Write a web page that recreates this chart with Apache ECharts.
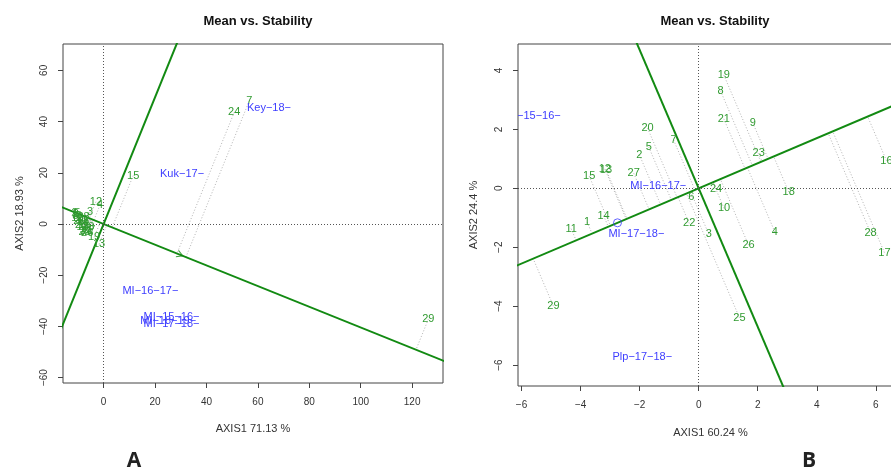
<!DOCTYPE html>
<html><head><meta charset="utf-8">
<script src="https://cdn.jsdelivr.net/npm/echarts@6/dist/echarts.min.js"></script>
<style>html,body{margin:0;padding:0;background:#fff}#c{width:891px;height:467px}</style>
</head><body><div id="c"></div>
<script>
// ---------- Panel A data ----------
const genoA  = ['7','24','15','29','12','4','3','19','13','1','2','5','6','8','9','10','11','14','16','17','18','20','21','22','23','25','26','27','28'];
const genoAx = [56.7,50.8,11.5,126.3,-3.0,-1.4,-5.3,-3.7,-1.8,-11.5,-10.8,-10.2,-9.6,-11.0,-9.0,-8.6,-10.4,-8.0,-7.6,-8.2,-7.0,-9.4,-6.6,-7.4,-6.0,-8.8,-6.4,-5.6,-7.8];
const genoAy = [48.2,43.6,18.9,-37.2,8.7,7.4,4.6,-5.2,-7.9,4.2,3.8,4.5,3.2,3.0,2.4,1.6,2.2,0.8,-0.4,-1.2,-1.8,1.0,-2.6,-3.0,-1.0,-0.2,-3.4,-2.2,2.6];
const envA   = ['Key−18−','Kuk−17−','MI−16−17−','MI−15−16−','MI−18−19−','MI−17−18−'];
const envAx  = [64.3,30.5,18.2,26.4,25.1,26.4];
const envAy  = [45.3,19.4,-26.2,-36.4,-37.8,-39.1];
const avgEnvA = [29.7,-12.0];
const ticksAx = [0,20,40,60,80,100,120];
const ticksAy = [-60,-40,-20,0,20,40,60];
const rangeAx = [-15.8,132];
const rangeAy = [-62.1,70.3];

// ---------- Panel B data ----------
const genoB  = ['19','8','21','9','23','18','20','7','5','2','12','13','15','27','24','6','10','14','1','11','22','3','26','4','28','17','16','29','25'];
const genoBx = [0.85,0.74,0.85,1.83,2.03,3.05,-1.73,-0.85,-1.69,-2.01,-3.18,-3.14,-3.71,-2.20,0.59,-0.25,0.86,-3.22,-3.78,-4.32,-0.32,0.34,1.69,2.58,5.82,6.29,6.36,-4.92,1.38];
const genoBy = [3.85,3.31,2.36,2.23,1.19,-0.12,2.04,1.64,1.40,1.14,0.66,0.64,0.42,0.51,-0.03,-0.29,-0.68,-0.93,-1.14,-1.37,-1.19,-1.55,-1.93,-1.48,-1.50,-2.18,0.94,-4.00,-4.39];
const envB   = ['MI−15−16−','MI−16−17−','MI−17−18−','Plp−17−18−'];
const envBx  = [-5.62,-1.37,-2.11,-1.91];
const envBy  = [2.47,0.09,-1.56,-5.73];
const avgEnvB = [-2.75,-1.17];
const ticksBx = [-6,-4,-2,0,2,4,6];
const ticksBy = [-6,-4,-2,0,2,4];
const rangeBx = [-6.12,6.92];
const rangeBy = [-6.71,4.9];

const titleText = 'Mean vs. Stability';
const axisNames = [['AXIS1 71.13 %','AXIS2 18.93 %'],['AXIS1 60.24 %','AXIS2 24.4 %']];

// ---------- helpers ----------
const GREEN_LINE = '#128a12';
const GENO_COL = '#319b31';
const ENV_COL = '#3d3dff';
const FONT = 'Liberation Sans, Arial, sans-serif';
const fmt = v => (v < 0 ? '−' + Math.abs(v) : String(v));

function projSegments(xs, ys, avg) {
  const d2 = avg[0]*avg[0] + avg[1]*avg[1];
  return xs.map((x, i) => {
    const t = (x*avg[0] + ys[i]*avg[1]) / d2;
    return [x, ys[i], t*avg[0], t*avg[1]];
  });
}
function axisLines(avg) {
  const n = Math.hypot(avg[0], avg[1]);
  const ux = avg[0]/n, uy = avg[1]/n, B = 1000;
  return {
    aea: [[-B*ux, -B*uy], [B*ux, B*uy]],
    perp: [[B*uy, -B*ux], [-B*uy, B*ux]]
  };
}
function xAxisDef(gi, range, ticks, name, gap) {
  return {
    gridIndex: gi, type: 'value', min: range[0], max: range[1],
    axisLine: { show: false, onZero: false },
    axisTick: { show: true, length: 5, customValues: ticks, lineStyle: { color: '#444' } },
    axisLabel: { customValues: ticks, fontSize: 10, color: '#333', margin: 14, fontFamily: FONT, formatter: fmt },
    splitLine: { show: false },
    name: name, nameLocation: 'middle', nameGap: gap,
    nameTextStyle: { fontSize: 11, color: '#333', fontFamily: FONT }
  };
}
function yAxisDef(gi, range, ticks, name, gap) {
  return {
    gridIndex: gi, type: 'value', min: range[0], max: range[1],
    axisLine: { show: false, onZero: false },
    axisTick: { show: true, length: 5, customValues: ticks, lineStyle: { color: '#444' } },
    axisLabel: { customValues: ticks, fontSize: 10, color: '#333', margin: 14, rotate: 90, fontFamily: FONT, formatter: fmt },
    splitLine: { show: false },
    name: name, nameLocation: 'middle', nameGap: gap,
    nameTextStyle: { fontSize: 11, color: '#333', fontFamily: FONT }
  };
}
function textSeries(gi, names, xs, ys, color) {
  return {
    type: 'custom', xAxisIndex: gi, yAxisIndex: gi, clip: true, silent: true, z: 5,
    data: xs.map((x, i) => [x, ys[i]]),
    renderItem: (params, api) => {
      const p = api.coord([api.value(0), api.value(1)]);
      return { type: 'text', x: p[0], y: p[1],
        style: { text: names[params.dataIndex], fill: color, fontSize: 11, fontFamily: FONT, align: 'center', verticalAlign: 'middle' } };
    }
  };
}
function segSeries(gi, segs) {
  return {
    type: 'custom', xAxisIndex: gi, yAxisIndex: gi, clip: true, silent: true, z: 2,
    data: segs,
    encode: { x: [0, 2], y: [1, 3] },
    renderItem: (params, api) => {
      const a = api.coord([api.value(0), api.value(1)]);
      const b = api.coord([api.value(2), api.value(3)]);
      return { type: 'line', shape: { x1: a[0], y1: a[1], x2: b[0], y2: b[1] },
        style: { stroke: '#b4b4b4', lineWidth: 1, lineDash: [1, 2] } };
    }
  };
}
function greenLine(gi, pts, withCross) {
  const s = {
    type: 'line', xAxisIndex: gi, yAxisIndex: gi, data: pts, symbol: 'none', clip: true, silent: true, z: 3,
    lineStyle: { color: GREEN_LINE, width: 2 }
  };
  if (withCross) {
    s.markLine = { symbol: 'none', silent: true, label: { show: false },
      lineStyle: { color: '#555', width: 1, type: [1, 2] },
      data: [{ xAxis: 0 }, { yAxis: 0 }] };
  }
  return s;
}

const linesA = axisLines(avgEnvA);
const linesB = axisLines(avgEnvB);

const option = {
  animation: false,
  backgroundColor: '#fff',
  title: [
    { text: titleText, left: 253, top: 10, textAlign: 'center', textStyle: { fontSize: 13, fontWeight: 'bold', color: '#111', fontFamily: FONT } },
    { text: titleText, left: 710, top: 10, textAlign: 'center', textStyle: { fontSize: 13, fontWeight: 'bold', color: '#111', fontFamily: FONT } },
    { text: 'A', left: 129, top: 446, textAlign: 'center', textStyle: { fontSize: 21, fontWeight: 'bold', color: '#222', fontFamily: 'Open Sans, sans-serif' } },
    { text: 'B', left: 804, top: 446, textAlign: 'center', textStyle: { fontSize: 21, fontWeight: 'bold', color: '#222', fontFamily: 'Open Sans, sans-serif' } }
  ],
  grid: [
    { left: 63, top: 44, width: 380, height: 339, show: true, borderColor: '#444', borderWidth: 1, backgroundColor: 'transparent', outerBoundsMode: 'none', containLabel: false },
    { left: 518, top: 44, width: 385, height: 342, show: true, borderColor: '#444', borderWidth: 1, backgroundColor: 'transparent', outerBoundsMode: 'none', containLabel: false }
  ],
  xAxis: [
    xAxisDef(0, rangeAx, ticksAx, axisNames[0][0], 40),
    xAxisDef(1, rangeBx, ticksBx, axisNames[1][0], 41)
  ],
  yAxis: [
    yAxisDef(0, rangeAy, ticksAy, axisNames[0][1], 38),
    yAxisDef(1, rangeBy, ticksBy, axisNames[1][1], 39)
  ],
  series: [
    greenLine(0, linesA.aea, true),
    greenLine(0, linesA.perp, false),
    segSeries(0, projSegments(genoAx, genoAy, avgEnvA)),
    textSeries(0, genoA, genoAx, genoAy, GENO_COL),
    textSeries(0, envA, envAx, envAy, ENV_COL),
    { type: 'scatter', xAxisIndex: 0, yAxisIndex: 0, data: [avgEnvA], symbol: 'path://M0,0 L10,5 L0,10', symbolSize: [6, 7],
      symbolRotate: -22, itemStyle: { color: 'none', borderColor: GREEN_LINE, borderWidth: 1 }, silent: true, z: 4 },

    greenLine(1, linesB.aea, true),
    greenLine(1, linesB.perp, false),
    segSeries(1, projSegments(genoBx, genoBy, avgEnvB)),
    textSeries(1, genoB, genoBx, genoBy, GENO_COL),
    textSeries(1, envB, envBx, envBy, ENV_COL),
    { type: 'scatter', xAxisIndex: 1, yAxisIndex: 1, data: [avgEnvB], symbol: 'circle', symbolSize: 8,
      itemStyle: { color: 'none', borderColor: ENV_COL, borderWidth: 1 }, silent: true, z: 4 }
  ]
};

const chart = echarts.init(document.getElementById('c'), null, { renderer: 'canvas' });
chart.setOption(option);
</script></body></html>
